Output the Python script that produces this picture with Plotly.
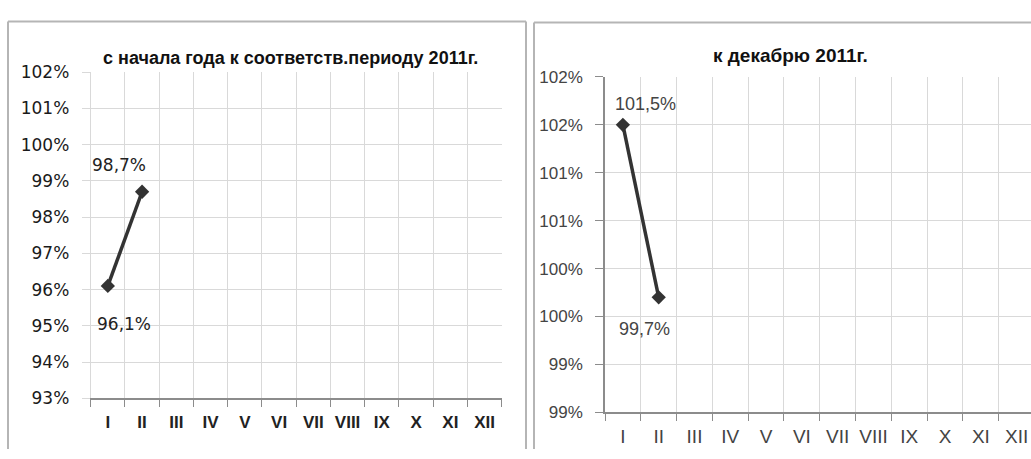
import plotly.graph_objects as go

# ---- data ----
months = ["I", "II", "III", "IV", "V", "VI", "VII", "VIII", "IX", "X", "XI", "XII"]

left_title = "с начала года к соответств.периоду 2011г."
left_x = ["I", "II"]
left_y = [96.1, 98.7]
left_labels = ["96,1%", "98,7%"]
left_tickvals = [93, 94, 95, 96, 97, 98, 99, 100, 101, 102]
left_ticktext = ["93%", "94%", "95%", "96%", "97%", "98%", "99%", "100%", "101%", "102%"]

right_title = "к декабрю 2011г."
right_x = ["I", "II"]
right_y = [101.5, 99.7]
right_labels = ["101,5%", "99,7%"]
right_tickvals = [98.5, 99.0, 99.5, 100.0, 100.5, 101.0, 101.5, 102.0]
right_ticktext = ["99%", "99%", "100%", "100%", "101%", "101%", "102%", "102%"]

W, H = 1031, 459
def px_x(p): return p / W
def px_y(p): return 1 - p / H

fig = go.Figure()

line_style = dict(color="#333333", width=3.5)
marker_style = dict(symbol="diamond", size=11, color="#333333")

fig.add_trace(go.Scatter(x=left_x, y=left_y, mode="lines+markers",
                         line=line_style, marker=marker_style,
                         xaxis="x", yaxis="y", showlegend=False, hoverinfo="skip"))
fig.add_trace(go.Scatter(x=right_x, y=right_y, mode="lines+markers",
                         line=line_style, marker=marker_style,
                         xaxis="x2", yaxis="y2", showlegend=False, hoverinfo="skip"))

grid_col = "#d9d9d9"

fig.update_layout(
    width=W, height=H,
    margin=dict(l=0, r=0, t=0, b=0),
    paper_bgcolor="white", plot_bgcolor="white",
    xaxis=dict(domain=[px_x(90.7), px_x(501.7)], anchor="y",
               type="category", categoryorder="array", categoryarray=months,
               tickmode="array", tickvals=months, ticktext=months,
               range=[-0.5, 11.5], tickson="boundaries", tickangle=0,
               showgrid=True, gridcolor=grid_col, gridwidth=1,
               showline=True, linecolor="#8c8c8c", linewidth=1.5,
               ticks="outside", ticklen=7, tickcolor="#8c8c8c",
               ticklabelstandoff=8,
               tickfont=dict(family="Liberation Sans", size=17, color="#222222", weight="bold"),
               fixedrange=True, zeroline=False),
    yaxis=dict(domain=[px_y(406), px_y(65)], anchor="x",
               range=[93, 102], tickmode="array",
               tickvals=left_tickvals, ticktext=left_ticktext,
               showgrid=True, gridcolor=grid_col, gridwidth=1,
               showline=True, linecolor=grid_col, linewidth=1,
               ticks="outside", ticklen=8, tickcolor=grid_col,
               ticklabelstandoff=9,
               tickfont=dict(family="DejaVu Sans", size=17, color="#1a1a1a"),
               zeroline=False, fixedrange=True),
    xaxis2=dict(domain=[px_x(605), 1.0], anchor="y2",
                type="category", categoryorder="array", categoryarray=months,
                tickmode="array", tickvals=months, ticktext=months,
                range=[-0.5, 11.4], tickson="boundaries", tickangle=0,
                showgrid=True, gridcolor=grid_col, gridwidth=1,
                showline=True, linecolor="#8c8c8c", linewidth=1.5,
                ticks="outside", ticklen=7, tickcolor="#8c8c8c",
                ticklabelstandoff=6,
                tickfont=dict(family="Liberation Sans", size=19, color="#444444"),
                fixedrange=True, zeroline=False),
    yaxis2=dict(domain=[px_y(420.7), px_y(70)], anchor="x2",
                range=[98.5, 102], tickmode="array",
                tickvals=right_tickvals, ticktext=right_ticktext,
                showgrid=True, gridcolor=grid_col, gridwidth=1,
                showline=True, linecolor="#8c8c8c", linewidth=1.5,
                ticks="outside", ticklen=8, tickcolor="#8c8c8c",
                ticklabelstandoff=9,
                tickfont=dict(family="Liberation Sans", size=17, color="#444444"),
                zeroline=False, fixedrange=True),
)

# panel borders (open sides run into the picture's edges)
border = dict(color="#b5b5b5", width=2)
for (xa, ya, xb, yb) in [
    (8, 459, 8, 12), (8, 12, 526, 12), (526, 12, 526, 459),     # left panel
    (534, 459, 534, 13), (534, 13, 1031, 13),                     # right panel
]:
    fig.add_shape(type="line", xref="paper", yref="paper",
                  x0=px_x(xa), y0=px_y(ya), x1=px_x(xb), y1=px_y(yb),
                  line=border, layer="below")

# titles
fig.add_annotation(text="<b>" + left_title + "</b>", xref="paper", yref="paper",
                   x=px_x(290), y=px_y(50), xanchor="center", yanchor="middle", showarrow=False,
                   font=dict(family="Liberation Sans", size=18, color="#111111"))
fig.add_annotation(text="<b>" + right_title + "</b>", xref="paper", yref="paper",
                   x=px_x(790), y=px_y(48), xanchor="center", yanchor="middle", showarrow=False,
                   font=dict(family="Liberation Sans", size=19, color="#111111"))

# data labels
left_shifts = [(16, -38), (-23, 27)]
for xv, yv, t, (dx, dy) in zip(left_x, left_y, left_labels, left_shifts):
    fig.add_annotation(x=xv, y=yv, xref="x", yref="y", text=t, showarrow=False,
                       xshift=dx, yshift=dy, xanchor="center", yanchor="middle",
                       font=dict(family="DejaVu Sans", size=17, color="#222222"))
right_shifts = [(23, 21), (-14, -32)]
for xv, yv, t, (dx, dy) in zip(right_x, right_y, right_labels, right_shifts):
    fig.add_annotation(x=xv, y=yv, xref="x2", yref="y2", text=t, showarrow=False,
                       xshift=dx, yshift=dy, xanchor="center", yanchor="middle",
                       font=dict(family="Liberation Sans", size=18, color="#444444"))

fig.write_html("out.html", config={"displayModeBar": False},
               post_script="document.body.style.margin='0';document.body.style.padding='0';")
